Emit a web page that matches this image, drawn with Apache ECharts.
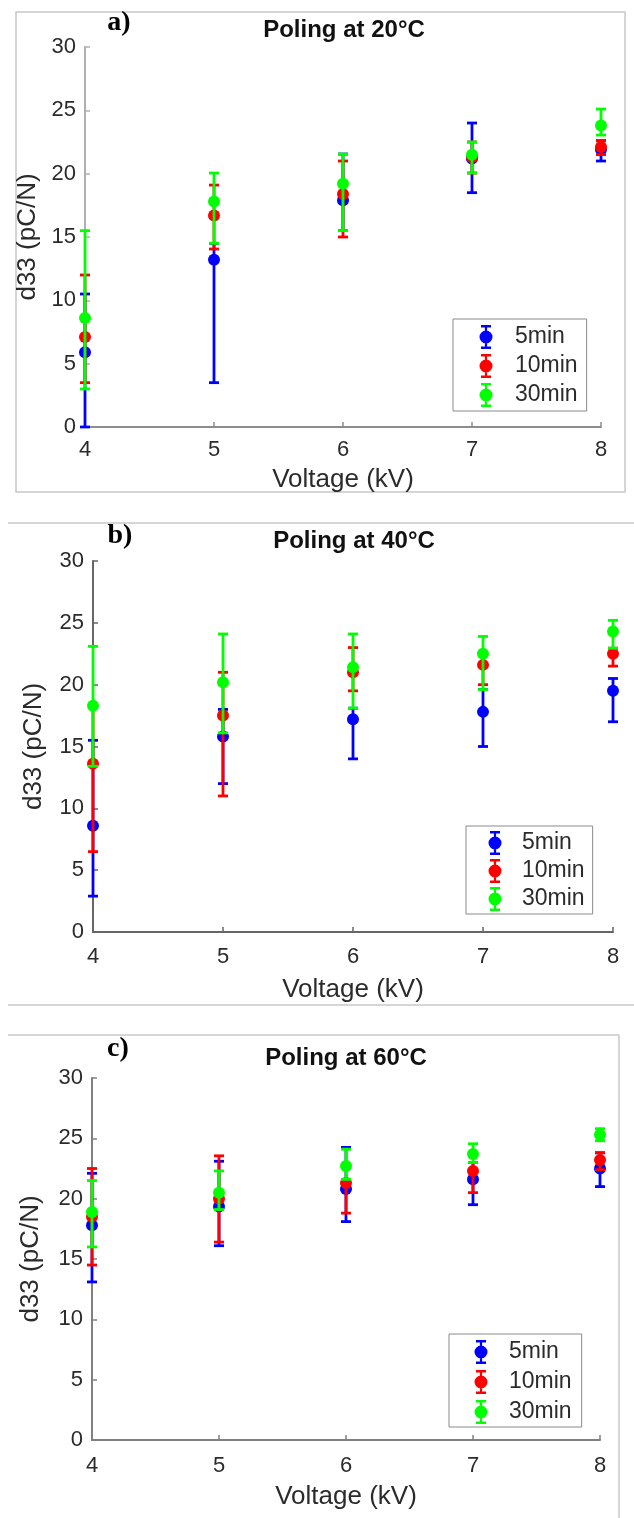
<!DOCTYPE html>
<html>
<head>
<meta charset="utf-8">
<script src="https://cdn.jsdelivr.net/npm/echarts@6/dist/echarts.min.js"></script>
<style>html,body{margin:0;padding:0;background:#fff;}#chart{width:634px;height:1518px;}</style>
</head>
<body>
<div id="chart"></div>
<script>
// ---- data ----
const voltage = [4, 5, 6, 7, 8];
const xTicks = [4, 5, 6, 7, 8];
const yTicks = [0, 5, 10, 15, 20, 25, 30];
const seriesNames = ['5min', '10min', '30min'];
const panelTitles = ['Poling at 20°C', 'Poling at 40°C', 'Poling at 60°C'];
const panelLetters = ['a)', 'b)', 'c)'];

// Panel a (20°C)
const a_5min = [5.9, 13.2, 17.9, 21.2, 21.9];
const a_5min_lo = [0, 3.5, 15.5, 18.5, 21.0];
const a_5min_hi = [10.5, 14.5, 21.55, 24.0, 22.6];
const a_10min = [7.1, 16.7, 18.4, 21.3, 22.1];
const a_10min_lo = [3.5, 14.05, 15.0, 20.05, 21.5];
const a_10min_hi = [12.0, 19.1, 21.0, 22.5, 22.6];
const a_30min = [8.6, 17.8, 19.2, 21.5, 23.8];
const a_30min_lo = [3.0, 14.5, 15.5, 20.05, 23.05];
const a_30min_hi = [15.5, 20.05, 21.55, 22.5, 25.1];

// Panel b (40°C)
const b_5min = [8.6, 15.8, 17.2, 17.8, 19.5];
const b_5min_lo = [2.9, 12.0, 14.0, 15.0, 17.0];
const b_5min_hi = [15.5, 18.0, 18.1, 19.6, 20.5];
const b_10min = [13.6, 17.5, 21.0, 21.6, 22.5];
const b_10min_lo = [6.5, 11.0, 19.5, 20.0, 21.5];
const b_10min_hi = [18.3, 21.0, 23.0, 22.5, 22.95];
const b_30min = [18.3, 20.2, 21.4, 22.5, 24.3];
const b_30min_lo = [13.4, 16.1, 18.1, 19.6, 22.95];
const b_30min_hi = [23.1, 24.1, 24.1, 23.9, 25.2];

// Panel c (60°C)
const c_5min = [17.8, 19.35, 20.8, 21.6, 22.5];
const c_5min_lo = [13.1, 16.1, 18.1, 19.5, 21.0];
const c_5min_hi = [22.1, 23.1, 24.25, 23.0, 23.8];
const c_10min = [18.5, 20.0, 21.3, 22.3, 23.2];
const c_10min_lo = [14.5, 16.4, 18.8, 20.5, 22.4];
const c_10min_hi = [22.5, 23.55, 21.6, 23.0, 23.8];
const c_30min = [18.9, 20.5, 22.7, 23.7, 25.3];
const c_30min_lo = [16.0, 19.1, 21.6, 23.0, 24.8];
const c_30min_hi = [21.5, 22.3, 24.1, 24.55, 25.8];

// ---- layout / style ----
const colors = ['#0000ff', '#ff0000', '#00ff00'];
const FONT = '"Liberation Sans", Arial, Helvetica, sans-serif';
const TXT = '#2b2b2b';

const panels = [
  { vals: [a_5min, a_10min, a_30min], lo: [a_5min_lo, a_10min_lo, a_30min_lo], hi: [a_5min_hi, a_10min_hi, a_30min_hi],
    grid: { left: 85, top: 47, width: 516, height: 380 }, axisColor: ['#8c8c8c', '#b0b0b0'],
    title: { x: 344, y: 32 }, letter: { x: 119, y: 23 },
    xLabelMargin: 12, xNameGap: 40, yNameGap: 37,
    legend: { left: 453, top: 319, padding: [6, 9, 4, 26.5], itemGap: 5, textPad: 17.5 } },
  { vals: [b_5min, b_10min, b_30min], lo: [b_5min_lo, b_10min_lo, b_30min_lo], hi: [b_5min_hi, b_10min_hi, b_30min_hi],
    grid: { left: 93, top: 561, width: 520, height: 371 }, axisColor: ['#666666', '#666666'],
    title: { x: 354, y: 543 }, letter: { x: 120, y: 536 },
    xLabelMargin: 14, xNameGap: 45, yNameGap: 46,
    legend: { left: 466, top: 826, padding: [5, 8, 3, 22.5], itemGap: 4, textPad: 15.5 } },
  { vals: [c_5min, c_10min, c_30min], lo: [c_5min_lo, c_10min_lo, c_30min_lo], hi: [c_5min_hi, c_10min_hi, c_30min_hi],
    grid: { left: 92, top: 1078, width: 508, height: 362 }, axisColor: ['#808080', '#808080'],
    title: { x: 346, y: 1060 }, letter: { x: 118, y: 1049 },
    xLabelMargin: 15, xNameGap: 44, yNameGap: 48,
    legend: { left: 449, top: 1334, padding: [6, 10, 3, 25.5], itemGap: 6, textPad: 16.5 } }
];

// legend icon: error-bar glyph (caps + bar + circle), 13 x 24
const ebIcon = 'path://M1.5,0 H11.5 V2.4 H1.5 Z M5.4,2.4 H7.6 V5.8 H5.4 Z M5.4,18.2 H7.6 V21.6 H5.4 Z M1.5,21.6 H11.5 V24 H1.5 Z ' +
  'M0,12 A6.5,6.5 0 1 1 13,12 A6.5,6.5 0 1 1 0,12 Z';

const grids = [], xAxes = [], yAxes = [], series = [], legends = [], titles = [], graphics = [];

panels.forEach((p, i) => {
  grids.push(Object.assign({ containLabel: false }, p.grid));
  xAxes.push({
    type: 'value', gridIndex: i, min: xTicks[0], max: xTicks[xTicks.length - 1], interval: 1,
    name: 'Voltage (kV)', nameLocation: 'middle', nameGap: p.xNameGap,
    nameTextStyle: { fontFamily: FONT, fontSize: 26, color: TXT },
    axisLine: { show: true, lineStyle: { color: p.axisColor[0], width: 2 } },
    axisTick: { show: true, inside: true, length: 5, lineStyle: { color: p.axisColor[0], width: 1.5 } },
    axisLabel: { fontFamily: FONT, fontSize: 22, color: TXT, margin: p.xLabelMargin },
    splitLine: { show: false }
  });
  yAxes.push({
    type: 'value', gridIndex: i, min: yTicks[0], max: yTicks[yTicks.length - 1], interval: 5,
    name: 'd33 (pC/N)', nameLocation: 'middle', nameGap: p.yNameGap,
    nameTextStyle: { fontFamily: FONT, fontSize: 26, color: TXT },
    axisLine: { show: true, lineStyle: { color: p.axisColor[1], width: 2 } },
    axisTick: { show: true, inside: true, length: 5, lineStyle: { color: p.axisColor[1], width: 1.5 } },
    axisLabel: { fontFamily: FONT, fontSize: 22, color: TXT, margin: 9 },
    splitLine: { show: false }
  });
  seriesNames.forEach((name, k) => {
    const color = colors[k];
    series.push({
      type: 'custom', name: name, xAxisIndex: i, yAxisIndex: i, z: 2 + 2 * k,
      itemStyle: { color: color },
      data: voltage.map((v, j) => [v, p.lo[k][j], p.hi[k][j]]),
      encode: { x: 0, y: [1, 2] },
      renderItem: function (params, api) {
        const x = api.value(0);
        const top = api.coord([x, api.value(2)]);
        const bot = api.coord([x, api.value(1)]);
        const hw = 5;
        const st = { stroke: color, lineWidth: 2.8 };
        return {
          type: 'group', children: [
            { type: 'line', shape: { x1: top[0], y1: top[1], x2: bot[0], y2: bot[1] }, style: st },
            { type: 'line', shape: { x1: top[0] - hw, y1: top[1], x2: top[0] + hw, y2: top[1] }, style: st },
            { type: 'line', shape: { x1: bot[0] - hw, y1: bot[1], x2: bot[0] + hw, y2: bot[1] }, style: st }
          ]
        };
      }
    });
    series.push({
      type: 'scatter', name: name, xAxisIndex: i, yAxisIndex: i, z: 3 + 2 * k,
      symbol: 'circle', symbolSize: 12,
      itemStyle: { color: color, opacity: 1 },
      data: voltage.map((v, j) => [v, p.vals[k][j]])
    });
  });
  legends.push({
    orient: 'vertical', left: p.legend.left, top: p.legend.top, padding: p.legend.padding,
    itemWidth: 13, itemHeight: 24, itemGap: p.legend.itemGap,
    backgroundColor: '#fff', borderColor: '#8a8a8a', borderWidth: 1, borderRadius: 0,
    textStyle: { fontFamily: FONT, fontSize: 23, color: TXT, padding: [0, 0, 0, p.legend.textPad] },
    selectedMode: false,
    data: seriesNames.map(n => ({ name: n, icon: ebIcon }))
  });
  titles.push({
    text: panelTitles[i], left: p.title.x, top: p.title.y - 14, textAlign: 'center', padding: 0,
    textStyle: { fontFamily: FONT, fontSize: 24, fontWeight: 'bold', color: '#111' }
  });
  graphics.push({
    type: 'text', x: p.letter.x, y: p.letter.y, z: 10,
    style: { text: panelLetters[i], font: 'bold 28px "Liberation Serif", "Times New Roman", serif', fill: '#000', align: 'center', verticalAlign: 'middle' }
  });
});

// frames around the panels
const frameStyle = { stroke: '#c8c8c8', lineWidth: 1.5, fill: null };
graphics.push({ type: 'rect', shape: { x: 16, y: 12, width: 609, height: 480 }, style: frameStyle, z: 0, silent: true });
graphics.push({ type: 'line', shape: { x1: 8, y1: 523, x2: 634, y2: 523 }, style: frameStyle, z: 0, silent: true });
graphics.push({ type: 'line', shape: { x1: 8, y1: 1005, x2: 634, y2: 1005 }, style: frameStyle, z: 0, silent: true });
graphics.push({ type: 'line', shape: { x1: 8, y1: 1035, x2: 619, y2: 1035 }, style: frameStyle, z: 0, silent: true });
graphics.push({ type: 'line', shape: { x1: 619, y1: 1035, x2: 619, y2: 1518 }, style: frameStyle, z: 0, silent: true });

const chart = echarts.init(document.getElementById('chart'), null, { renderer: 'canvas' });
chart.setOption({
  animation: false,
  backgroundColor: '#fff',
  title: titles,
  grid: grids,
  xAxis: xAxes,
  yAxis: yAxes,
  legend: legends,
  graphic: graphics,
  series: series
});
</script>
</body>
</html>
